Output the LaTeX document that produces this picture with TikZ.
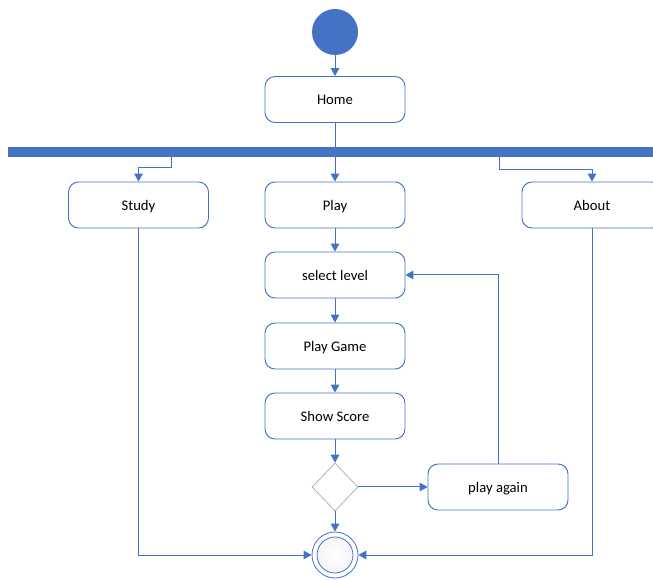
\documentclass[tikz,border=0pt]{standalone}
\usepackage{fontspec}
\setmainfont{Carlito}
\usetikzlibrary{arrows.meta, shapes.geometric, positioning}
\definecolor{umlblue}{HTML}{4472C4}

\begin{document}
\begin{tikzpicture}[x=0.75pt, y=-0.75pt, font=\fontsize{11}{13}\selectfont,
    act/.style={draw=umlblue, line width=0.7pt, rounded corners=7.5pt, fill=white,
                minimum width=105pt, minimum height=34.5pt, text height=2ex, text depth=0.4ex},
    arr/.style={draw=umlblue, line width=0.75pt, -{Triangle[length=6pt, width=6.5pt]}}]
    \useasboundingbox (0,0) rectangle (653,580);
    % start and fork
    \node[circle, fill=umlblue, minimum size=34.5pt, inner sep=0pt] (start) at (335,32) {};
    \node[act] (home) at (335,99.5) {Home};
    \node[fill=umlblue, minimum width=484pt, minimum height=7.5pt, inner sep=0pt] (fork) at (330.5,152) {};
    \coordinate (studyout) at (171,157);
    \coordinate (aboutout) at (499,157);
    % branches
    \node[act] (study) at (138.5,205) {Study};
    \node[act] (play) at (335,205) {Play};
    \node[act] (about) at (592,205) {About};
    % game loop
    \node[act] (select) at (335,275) {select level};
    \node[act] (game) at (335,346) {Play Game};
    \node[act] (score) at (335,416) {Show Score};
    \node[diamond, draw=gray!70, line width=0.5pt, fill=white, minimum width=34.5pt,
          minimum height=36pt, inner sep=0pt] (choice) at (335,487) {};
    \node[act] (again) at (498,487) {play again};
    % end
    \node[circle, draw=umlblue, line width=0.6pt, minimum size=34.5pt, inner sep=0pt] (end) at (335,555) {};
    \node[circle, draw=umlblue, line width=0.6pt, inner color=white, outer color=blue!4!gray!8,
          minimum size=27pt, inner sep=0pt] (endin) at (end) {};

    \draw[arr] (start) -- (home);
    \draw[draw=umlblue, line width=0.75pt] (home) -- (home |- fork.north);
    \draw[arr] (studyout) -- ++(0,11) -| (study.north);
    \draw[arr] (fork.south -| play) -- (play);
    \draw[arr] (aboutout) -- ++(0,13) -| (about.north);
    \draw[arr] (play) -- (select);
    \draw[arr] (select) -- (game);
    \draw[arr] (game) -- (score);
    \draw[arr] (score) -- (choice);
    \draw[arr] (choice) -- (again);
    \draw[arr] (again.north) |- (select.east);
    \draw[arr] (choice) -- (end);
    \draw[arr] (study.south) |- (end.west);
    \draw[arr] (about.south) |- (end.east);
\end{tikzpicture}
\end{document}
